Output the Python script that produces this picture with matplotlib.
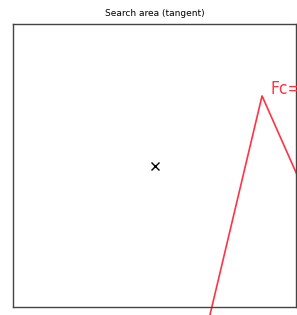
import matplotlib
matplotlib.use("Agg")
import matplotlib.pyplot as plt

# search area centre and tangent polyline (axes units 0..1)
centre_x = [0.5]
centre_y = [0.5]
line_x = [0.696, 0.88, 1.10]
line_y = [-0.028, 0.746, 0.25]
label = "Fc="
label_pos = (0.91, 0.77)

fig = plt.figure(figsize=(2.97, 3.15), dpi=100)
ax = fig.add_axes([13 / 297, 8 / 315, 283 / 297, 283 / 315])

ax.plot(centre_x, centre_y, marker="x", color="black", markersize=6, linestyle="none")
ax.plot(line_x, line_y, color="#ff3344", linewidth=1.2, clip_on=False)
ax.text(label_pos[0], label_pos[1], label, color="#ff3344", fontsize=12.5,
        fontstretch="condensed", va="center", ha="left", clip_on=False)

ax.set_xlim(0, 1)
ax.set_ylim(0, 1)
ax.set_xticks([])
ax.set_yticks([])
for s in ax.spines.values():
    s.set_color("#444444")
    s.set_linewidth(1.0)
ax.set_title("Search area (tangent)", fontsize=6.5, pad=6)

fig.savefig("out.png", dpi=100)
